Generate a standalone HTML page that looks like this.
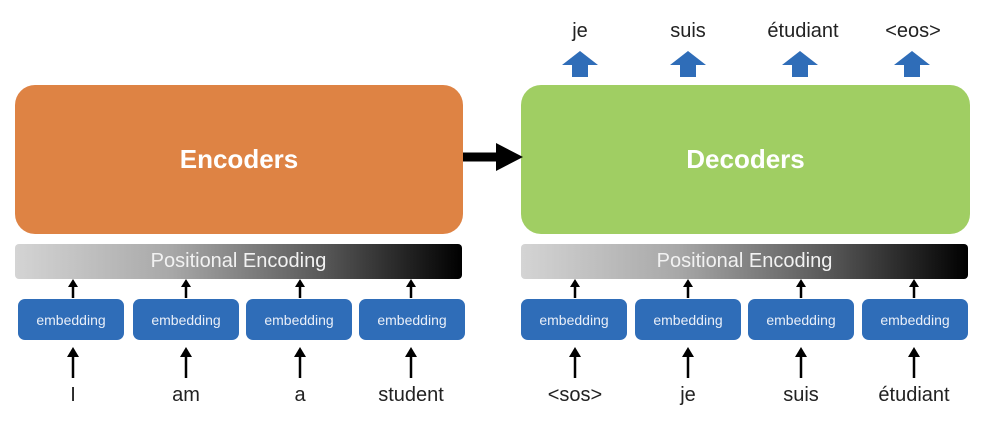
<!DOCTYPE html>
<html><head><meta charset="utf-8"><style>
body{margin:0;width:990px;height:422px;background:#fff;position:relative;overflow:hidden;font-family:"Liberation Sans","DejaVu Sans",sans-serif}
.a{position:absolute}
.big{border-radius:20px;color:#fff;font-weight:bold;font-size:26px;display:flex;align-items:center;justify-content:center}
.pe{height:35px;border-radius:4px;background:linear-gradient(90deg,#d4d4d4 0%,#a8a8a8 35%,#555 70%,#000 100%);color:#f2f2f2;font-size:20px;display:flex;align-items:center;justify-content:center}
.emb{height:41px;width:106px;border-radius:7px;background:#2F6DB8;color:#e8eef8;font-size:14px;display:flex;align-items:center;justify-content:center}
.w{font-size:20px;color:#222;text-align:center;width:120px}
</style></head><body>
<div class="a big" style="left:15px;top:85px;width:448px;height:149px;background:#DE8344">Encoders</div>
<div class="a big" style="left:521px;top:85px;width:449px;height:149px;background:#A0CE63">Decoders</div>
<div class="a pe" style="left:15px;top:244px;width:447px">Positional Encoding</div>
<div class="a pe" style="left:521px;top:244px;width:447px">Positional Encoding</div>
<svg class="a" style="left:0;top:0" width="990" height="422">
<defs><marker id="m" markerWidth="8" markerHeight="8" refX="4" refY="7" orient="auto-start-reverse" markerUnits="userSpaceOnUse"><path d="M0,8 L4,0 L8,8 Z" fill="#000"/></marker></defs>
<line x1="463" y1="157" x2="500" y2="157" stroke="#000" stroke-width="9"/>
<path d="M496,143 L523,157 L496,171 Z" fill="#000"/>
<g stroke="#000" stroke-width="2.5">
<line x1="73" y1="298" x2="73" y2="283"/><line x1="186" y1="298" x2="186" y2="283"/><line x1="300" y1="298" x2="300" y2="283"/><line x1="411" y1="298" x2="411" y2="283"/>
<line x1="575" y1="298" x2="575" y2="283"/><line x1="688" y1="298" x2="688" y2="283"/><line x1="801" y1="298" x2="801" y2="283"/><line x1="914" y1="298" x2="914" y2="283"/>
<line x1="73" y1="378" x2="73" y2="353"/><line x1="186" y1="378" x2="186" y2="353"/><line x1="300" y1="378" x2="300" y2="353"/><line x1="411" y1="378" x2="411" y2="353"/>
<line x1="575" y1="378" x2="575" y2="353"/><line x1="688" y1="378" x2="688" y2="353"/><line x1="801" y1="378" x2="801" y2="353"/><line x1="914" y1="378" x2="914" y2="353"/>
</g>
<g fill="#000">
<path d="M68,287 L73,279 L78,287Z"/><path d="M181,287 L186,279 L191,287Z"/><path d="M295,287 L300,279 L305,287Z"/><path d="M406,287 L411,279 L416,287Z"/>
<path d="M570,287 L575,279 L580,287Z"/><path d="M683,287 L688,279 L693,287Z"/><path d="M796,287 L801,279 L806,287Z"/><path d="M909,287 L914,279 L919,287Z"/>
<path d="M67,357 L73,347 L79,357Z"/><path d="M180,357 L186,347 L192,357Z"/><path d="M294,357 L300,347 L306,357Z"/><path d="M405,357 L411,347 L417,357Z"/>
<path d="M569,357 L575,347 L581,357Z"/><path d="M682,357 L688,347 L694,357Z"/><path d="M795,357 L801,347 L807,357Z"/><path d="M908,357 L914,347 L920,357Z"/>
</g>
<g fill="#2F6DB8">
<path d="M562,65 L580,51 L598,65 L588,65 L588,77 L572,77 L572,65Z"/>
<path d="M670,65 L688,51 L706,65 L696,65 L696,77 L680,77 L680,65Z"/>
<path d="M782,65 L800,51 L818,65 L808,65 L808,77 L792,77 L792,65Z"/>
<path d="M894,65 L912,51 L930,65 L920,65 L920,77 L904,77 L904,65Z"/>
</g>
</svg>
<div class="a emb" style="left:18px;top:299px">embedding</div>
<div class="a emb" style="left:133px;top:299px">embedding</div>
<div class="a emb" style="left:246px;top:299px">embedding</div>
<div class="a emb" style="left:359px;top:299px">embedding</div>
<div class="a emb" style="left:521px;top:299px">embedding</div>
<div class="a emb" style="left:635px;top:299px">embedding</div>
<div class="a emb" style="left:748px;top:299px">embedding</div>
<div class="a emb" style="left:862px;top:299px">embedding</div>
<div class="a w" style="left:13px;top:384px">I</div>
<div class="a w" style="left:126px;top:384px">am</div>
<div class="a w" style="left:240px;top:384px">a</div>
<div class="a w" style="left:351px;top:384px">student</div>
<div class="a w" style="left:515px;top:384px">&lt;sos&gt;</div>
<div class="a w" style="left:628px;top:384px">je</div>
<div class="a w" style="left:741px;top:384px">suis</div>
<div class="a w" style="left:854px;top:384px">étudiant</div>
<div class="a w" style="left:520px;top:20px">je</div>
<div class="a w" style="left:628px;top:20px">suis</div>
<div class="a w" style="left:743px;top:20px">étudiant</div>
<div class="a w" style="left:853px;top:20px">&lt;eos&gt;</div>
</body></html>
